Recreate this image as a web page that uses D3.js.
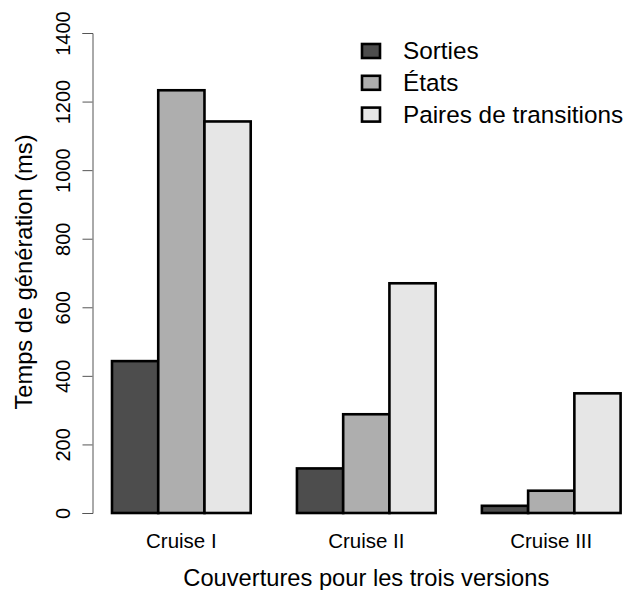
<!DOCTYPE html>
<html>
<head>
<meta charset="utf-8">
<script src="https://cdn.jsdelivr.net/npm/d3@7"></script>
<style>
html,body{margin:0;padding:0;background:#fff;}
text{font-family:"Liberation Sans",Arial,Helvetica,sans-serif;fill:#000;}
</style>
</head>
<body>
<svg id="chart" width="630" height="590"></svg>
<script>
const categories = ["Cruise I", "Cruise II", "Cruise III"];
const seriesNames = ["Sorties", "États", "Paires de transitions"];
const sorties = [443, 130, 21];
const etats = [1233, 288, 65];
const paires = [1142, 670, 349];
const yTicks = [0, 200, 400, 600, 800, 1000, 1200, 1400];
const colors = ["#4D4D4D", "#AEAEAE", "#E6E6E6"];

const seriesValues = [sorties, etats, paires];
const svg = d3.select("#chart");

// unit-based x scale (R barplot beside=TRUE, space=c(0,1))
const x = d3.scaleLinear().domain([1, 12]).range([112, 620.6]);
const y = d3.scaleLinear().domain([0, 1400]).range([513, 33]);

const bars = [];
categories.forEach((c, i) => {
  seriesValues.forEach((vals, j) => {
    const start = 1 + 4 * i + j;
    bars.push({start, end: start + 1, v: vals[i], j});
  });
});

svg.append("g").selectAll("rect").data(bars).join("rect")
  .attr("x", d => x(d.start))
  .attr("y", d => y(d.v))
  .attr("width", d => x(d.end) - x(d.start))
  .attr("height", d => y(0) - y(d.v))
  .attr("fill", d => colors[d.j])
  .attr("stroke", "#000")
  .attr("stroke-width", 2.6);

// y axis
const yAxis = d3.axisLeft(y).tickValues(yTicks).tickSize(10).tickPadding(12).tickFormat(d3.format("d"));
const gy = svg.append("g").attr("transform", "translate(92.5,0)").call(yAxis);
gy.select(".domain").attr("stroke", "#555").attr("stroke-width", 1);
gy.selectAll(".tick line").attr("stroke", "#555");
gy.selectAll(".tick text")
  .attr("font-size", 20)
  .attr("font-family", "Liberation Sans, Arial, sans-serif")
  .attr("fill", "#000")
  .attr("text-anchor", "middle")
  .attr("x", 0).attr("dy", 0)
  .attr("transform", "translate(-22.5,0) rotate(-90)")
  .attr("dominant-baseline", "auto");

// category labels
svg.append("g").selectAll("text").data(categories).join("text")
  .attr("x", (d, i) => x(2.5 + 4 * i))
  .attr("y", 548)
  .attr("text-anchor", "middle")
  .attr("font-size", 20.5)
  .text(d => d);

// axis titles
svg.append("text")
  .attr("x", x(6.5)).attr("y", 586)
  .attr("text-anchor", "middle")
  .attr("font-size", 23.7)
  .text("Couvertures pour les trois versions");

svg.append("text")
  .attr("transform", `translate(32,272) rotate(-90)`)
  .attr("text-anchor", "middle")
  .attr("font-size", 23.7)
  .text("Temps de génération (ms)");

// legend
const lg = svg.append("g");
seriesNames.forEach((name, j) => {
  const cy = 51 + j * 31.8;
  lg.append("rect")
    .attr("x", 362).attr("y", cy - 7)
    .attr("width", 18).attr("height", 14)
    .attr("fill", colors[j]).attr("stroke", "#000").attr("stroke-width", 2.6);
  lg.append("text")
    .attr("x", 403).attr("y", cy + 8)
    .attr("font-size", 24.3)
    .text(name);
});
</script>
</body>
</html>
